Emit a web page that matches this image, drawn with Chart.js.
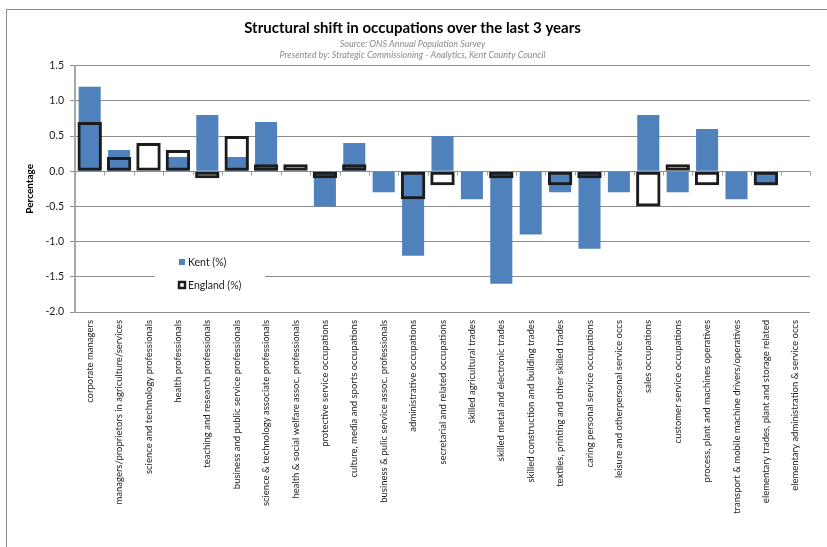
<!DOCTYPE html>
<html>
<head>
<meta charset="utf-8">
<script src="https://cdn.jsdelivr.net/npm/chart.js@4/dist/chart.umd.min.js"></script>
<style>
  html, body { margin: 0; padding: 0; background: #fff; }
  #wrap { width: 827px; height: 547px; }
</style>
</head>
<body>
<div id="wrap"><canvas id="shiftChart" width="827" height="547"></canvas></div>
<script>
// occupation groups, left to right
const categories = [
  "corporate managers",
  "managers/proprietors in agriculture/services",
  "science and technology professionals",
  "health professionals",
  "teaching and research professionals",
  "business and public service professionals",
  "science & technology associate professionals",
  "health & social welfare assoc. professionals",
  "protective service occupations",
  "culture, media and sports occupations",
  "business & pulic service assoc. professionals",
  "administrative occupations",
  "secretarial and related occupations",
  "skilled agricultural trades",
  "skilled metal and electronic trades",
  "skilled construction and building trades",
  "textiles, printing and other skilled trades",
  "caring personal service occupations",
  "leisure and otherpersonal service occs",
  "sales occupations",
  "customer service occupations",
  "process, plant and machines operatives",
  "transport & mobile machine drivers/operatives",
  "elementary trades, plant and storage related",
  "elementary administration & service occs"
];

const kentValues = [1.2, 0.3, 0, 0.2, 0.8, 0.2, 0.7, 0, -0.5, 0.4, -0.3, -1.2, 0.5,
  -0.4, -1.6, -0.9, -0.3, -1.1, -0.3, 0.8, -0.3, 0.6, -0.4, -0.2, 0];

const englandValues = [0.7, 0.2, 0.4, 0.3, -0.1, 0.5, 0.1, 0.1, -0.1, 0.1, 0, -0.4, -0.2,
  0, -0.1, 0, -0.2, -0.1, 0, -0.5, 0.1, -0.2, 0, -0.2, 0];

const yMin = -2.0;
const yMax = 1.5;
const yStep = 0.5;

const seriesNames = ["Kent (%)", "England (%)"];

// outer frame + little ticks on the zero line + legend box inside the plot
const extrasPlugin = {
  id: 'extras',
  beforeDraw: (chart) => {
    const ctx = chart.ctx;
    ctx.save();
    ctx.strokeStyle = '#8a8a8a';
    ctx.lineWidth = 1;
    ctx.strokeRect(6.5, 9.5, 1000, 1000);
    ctx.restore();
  },
  afterDraw: (chart) => {
    const ctx = chart.ctx;
    const x = chart.scales.x;
    const y = chart.scales.y;
    const y0 = Math.round(y.getPixelForValue(0)) + 0.5;
    const step = (x.right - x.left) / categories.length;
    ctx.save();
    ctx.strokeStyle = '#a0a0a0';
    ctx.lineWidth = 1;
    for (let i = 0; i <= categories.length; i++) {
      const px = Math.round(x.left + i * step) + 0.5;
      ctx.beginPath();
      ctx.moveTo(px, y0);
      ctx.lineTo(px, y0 + 4);
      ctx.stroke();
    }

    // legend
    ctx.fillStyle = '#fff';
    ctx.fillRect(155, 250, 110, 48);
    ctx.fillStyle = '#4f81bd';
    ctx.fillRect(179, 259, 6, 6);
    ctx.strokeStyle = '#1c1c1c';
    ctx.lineWidth = 2.5;
    ctx.strokeRect(179, 282, 6, 6);
    ctx.fillStyle = '#1a1a1a';
    ctx.font = '10.5px Lato';
    ctx.textBaseline = 'middle';
    ctx.fillText(seriesNames[0], 188, 262.5);
    ctx.fillText(seriesNames[1], 188, 285.5);
    ctx.restore();
  }
};

Chart.defaults.font.family = 'Lato';

new Chart(document.getElementById('shiftChart'), {
  type: 'bar',
  data: {
    labels: categories,
    datasets: [{
      label: seriesNames[0],
      data: kentValues,
      backgroundColor: '#4f81bd',
      borderWidth: 0,
      barPercentage: 0.75,
      categoryPercentage: 1,
      grouped: false,
      order: 2
    }, {
      label: seriesNames[1],
      data: englandValues,
      backgroundColor: 'rgba(0,0,0,0)',
      borderColor: '#1c1c1c',
      borderWidth: 3,
      borderSkipped: false,
      barPercentage: 0.83,
      categoryPercentage: 1,
      grouped: false,
      order: 1
    }]
  },
  options: {
    responsive: false,
    animation: false,
    layout: {
      padding: { left: 15, right: 17, top: 0, bottom: 0 }
    },
    plugins: {
      legend: { display: false },
      tooltip: { enabled: false },
      title: {
        display: true,
        text: 'Structural shift in occupations over the last 3 years',
        color: '#000',
        font: { size: 15, weight: 'bold' },
        padding: { top: 19, bottom: 2 }
      },
      subtitle: {
        display: true,
        text: ['Source: ONS Annual Population Survey',
          'Presented by: Strategic Commissioning - Analytics, Kent County Council'],
        color: '#8a8a8a',
        font: { size: 9, style: 'italic' },
        padding: { top: 0, bottom: 5 }
      }
    },
    scales: {
      x: {
        grid: { display: false, drawTicks: false },
        border: { display: false },
        ticks: {
          autoSkip: false,
          maxRotation: 90,
          minRotation: 90,
          padding: 8,
          color: '#1a1a1a',
          font: { size: 9.5 }
        },
        afterFit: (scale) => { scale.height = 235; }
      },
      y: {
        min: yMin,
        max: yMax,
        grid: { color: '#8c8c8c', lineWidth: 1, tickLength: 5 },
        border: { color: '#a6a6a6', width: 2 },
        ticks: {
          stepSize: yStep,
          padding: 6,
          color: '#1a1a1a',
          font: { size: 10.5 },
          callback: (v) => Number(v).toFixed(1)
        },
        title: {
          display: true,
          text: 'Percentage',
          color: '#000',
          font: { size: 10, weight: 'bold' },
          padding: { top: 9, bottom: 0 }
        },
        afterFit: (scale) => { scale.width = 60; }
      }
    }
  },
  plugins: [extrasPlugin]
});
</script>
</body>
</html>
